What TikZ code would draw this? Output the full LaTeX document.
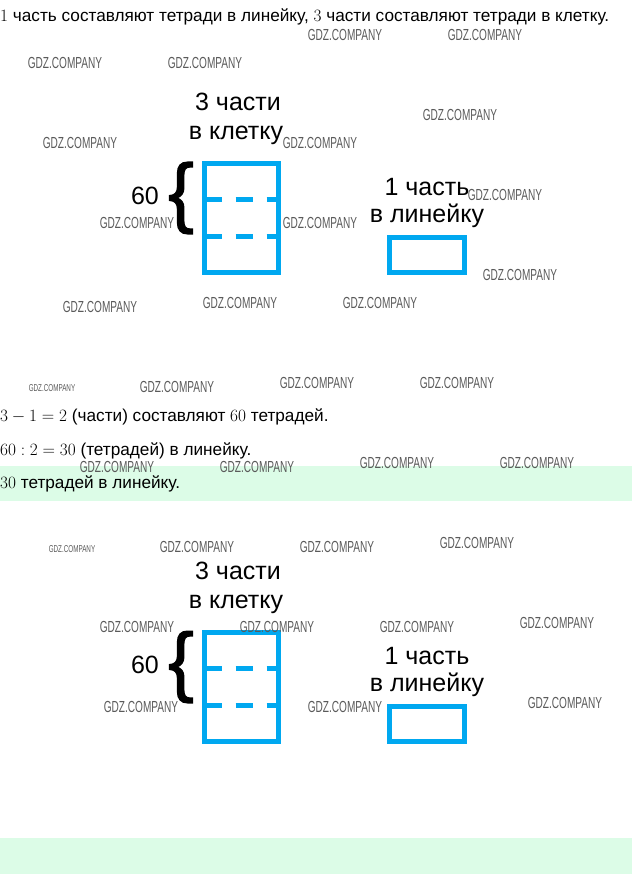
\documentclass[tikz,border=0pt]{standalone}
\usepackage{amsmath}
\usepackage{fontspec}
\setmainfont{Liberation Sans}
\newfontfamily\bracefont[FakeBold=1.6]{Liberation Sans}
\usepackage{tikz}
\usetikzlibrary{positioning,calc}
\definecolor{gdzblue}{RGB}{0,168,240}
\definecolor{gdzgreen}{RGB}{220,252,231}
\definecolor{wmgray}{RGB}{90,90,90}
\newcommand{\bodyfont}{\fontsize{17.2}{20}\selectfont}
\newcommand{\schemefont}{\fontsize{25}{29}\selectfont}

\tikzset{
  line/.style={anchor=west, inner sep=0pt, font=\bodyfont},
  label/.style={inner sep=0pt, font=\schemefont},
  part/.style={draw=gdzblue, line width=5pt, outer sep=0pt, inner sep=0pt},
  dashline/.style={draw=gdzblue, line width=5pt, dash pattern=on 17pt off 14pt},
  wmark/.style={inner sep=0pt, text=wmgray, xscale=0.63, font=\fontsize{16}{16}\selectfont},
  tinymark/.style={inner sep=0pt, text=wmgray, xscale=0.63, font=\fontsize{10}{10}\selectfont}
}

\begin{document}
\begin{tikzpicture}[x=1pt, y=-1pt]
    \useasboundingbox (0,0) rectangle (632,874);

    % Answer bands
    \fill[gdzgreen] (0,466) rectangle (632,501);
    \fill[gdzgreen] (0,838) rectangle (632,874);

    % Text
    \node[line] (given) at (0,17) {$1$ часть составляют тетради в линейку, $3$ части составляют тетради в клетку.};
    \node[line] (step1) at (0,417) {$3-1=2$ (части) составляют $60$ тетрадей.};
    \node[line] (step2) at (0,451) {$60:2=30$ (тетрадей) в линейку.};
    \node[line] (answer) at (0,484) {$30$ тетрадей в линейку.};

    % Schemes
    \foreach \k/\dy in {1/0, 2/469} {
      \begin{scope}[shift={(0,\dy)}]
        \node[label] (three\k) at (238,102) {3 части};
        \node[label] (cell\k) at (236,135) {в клетку};
        \node[part, minimum width=74pt, minimum height=109pt] (big\k) at (241.5,218) {};
        \foreach \f in {1,2}
          \draw[dashline] ($(big\k.north west)!\f/3!(big\k.south west)$) -- ($(big\k.north east)!\f/3!(big\k.south east)$);
        \node[inner sep=0pt, font=\fontsize{77}{77}\bracefont] (brace\k) at (181,198) {\{};
        \node[label] (sixty\k) at (145,196) {60};
        \node[label] (one\k) at (427,187) {1 часть};
        \node[label] (line\k) at (427,216) {в линейку};
        \node[part, minimum width=75pt, minimum height=35pt] (small\k) at (427,255) {};
      \end{scope}
    }

    % Watermarks
    \foreach \x/\y [count=\i] in {345/35, 485/35, 65/63, 205/63, 460/115, 80/143, 320/143,
        505/195, 137/223, 320/223, 520/275, 100/307, 240/303, 380/303,
        177/387, 317/383, 457/383, 117/467, 257/467, 397/463, 537/463,
        197/547, 337/547, 477/543, 137/627, 277/627, 417/627, 557/623,
        141/707, 345/707, 565/703}
      \node[wmark] (wm\i) at (\x,\y) {GDZ.COMPANY};
    \node[tinymark] (wmsmall1) at (52,388) {GDZ.COMPANY};
    \node[tinymark] (wmsmall2) at (72,549) {GDZ.COMPANY};
\end{tikzpicture}
\end{document}
